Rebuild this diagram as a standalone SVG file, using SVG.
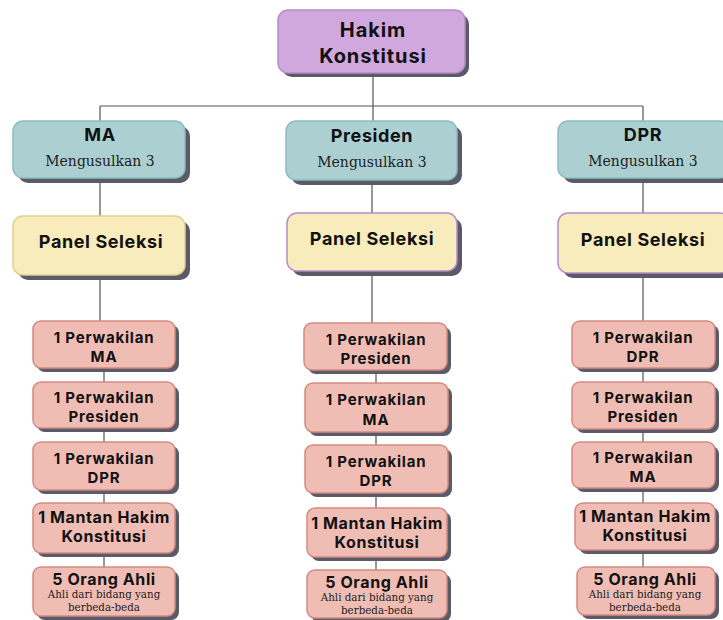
<svg xmlns="http://www.w3.org/2000/svg" width="723" height="620" viewBox="0 0 723 620">
<style>
.sh{fill:#5a5a68}
.top{fill:#d0a8dd;stroke:#b88cc6;stroke-width:1.5}
.teal{fill:#acd0d2;stroke:#8cbcbe;stroke-width:1.5}
.yel{fill:#f8ecbc;stroke:#e0d08e;stroke-width:1.5}
.yelp{fill:#f8ecbc;stroke:#b88cc8;stroke-width:1.5}
.red{fill:#f0bdb4;stroke:#d38a80;stroke-width:1.5}
.b{font-family:Inter,"Liberation Sans",sans-serif;font-weight:700;fill:#111;text-anchor:middle}
.s{font-family:"DejaVu Serif","Liberation Serif",serif;fill:#222;text-anchor:middle}
.t20{font-size:20px;letter-spacing:0.9px}
.t18{font-size:18px;letter-spacing:0.6px}
.t15{font-size:15px;letter-spacing:0.8px}
.t16{font-size:16px;letter-spacing:0.6px}
.sub{font-size:14px}
.small{font-size:10.3px}
.ln{stroke:#555;stroke-width:1.2;fill:none}
</style>
<g id="connectors">
<path class="ln" d="M373 73V106M100 106H643M100 106V121M373 106V121M643 106V121"/>
<path class="ln" d="M100 178V216M100 275V321M104 368V382M104 428V442M104 490V503M104 553V567"/>
<path class="ln" d="M372 180V213M372 271V323M376 370V383M376 432V445M376 493V508M376 557V570"/>
<path class="ln" d="M643 178V213M643 273V321M643 368V382M643 429V442M643 488V503M643 550V567"/>
</g>
<g id="hakim">
<rect class="sh" x="282" y="14" width="187" height="63" rx="10"/>
<rect class="top" x="278" y="10" width="187" height="63" rx="10"/>
<text class="b t20" x="373" y="37">Hakim</text>
<text class="b t20" x="373" y="63">Konstitusi</text>
</g>
<g id="ma">
<rect class="sh" x="18" y="126" width="172" height="57" rx="10"/>
<rect class="teal" x="13" y="121" width="172" height="57" rx="10"/>
<text class="b t18" x="100" y="141">MA</text>
<text class="s sub" x="100" y="166">Mengusulkan 3</text>
</g>
<g id="presiden">
<rect class="sh" x="291" y="126" width="171" height="59" rx="10"/>
<rect class="teal" x="286" y="121" width="171" height="59" rx="10"/>
<text class="b t18" x="372" y="142">Presiden</text>
<text class="s sub" x="372" y="167">Mengusulkan 3</text>
</g>
<g id="dpr">
<rect class="sh" x="563" y="126" width="172" height="57" rx="10"/>
<rect class="teal" x="558" y="121" width="172" height="57" rx="10"/>
<text class="b t18" x="643" y="141">DPR</text>
<text class="s sub" x="643" y="166">Mengusulkan 3</text>
</g>
<g id="panel-ma">
<rect class="sh" x="18" y="221" width="172" height="59" rx="10"/>
<rect class="yel" x="13" y="216" width="172" height="59" rx="10"/>
<text class="b t18" x="101" y="248">Panel Seleksi</text>
</g>
<g id="panel-presiden">
<rect class="sh" x="292" y="218" width="170" height="58" rx="10"/>
<rect class="yelp" x="287" y="213" width="170" height="58" rx="10"/>
<text class="b t18" x="372" y="245">Panel Seleksi</text>
</g>
<g id="panel-dpr">
<rect class="sh" x="563" y="218" width="172" height="60" rx="10"/>
<rect class="yelp" x="558" y="213" width="172" height="60" rx="10"/>
<text class="b t18" x="643" y="246">Panel Seleksi</text>
</g>
<!-- MA column -->
<g id="ma-1">
<rect class="sh" x="37" y="325" width="142" height="47" rx="8"/>
<rect class="red" x="33" y="321" width="142" height="47" rx="8"/>
<text class="b t15" x="104" y="343">1 Perwakilan</text>
<text class="b t15" x="104" y="362">MA</text>
</g>
<g id="ma-2">
<rect class="sh" x="37" y="386" width="142" height="46" rx="8"/>
<rect class="red" x="33" y="382" width="142" height="46" rx="8"/>
<text class="b t15" x="104" y="403">1 Perwakilan</text>
<text class="b t15" x="104" y="422">Presiden</text>
</g>
<g id="ma-3">
<rect class="sh" x="37" y="446" width="142" height="48" rx="8"/>
<rect class="red" x="33" y="442" width="142" height="48" rx="8"/>
<text class="b t15" x="104" y="464">1 Perwakilan</text>
<text class="b t15" x="104" y="483">DPR</text>
</g>
<g id="ma-4">
<rect class="sh" x="37" y="507" width="142" height="50" rx="8"/>
<rect class="red" x="33" y="503" width="142" height="50" rx="8"/>
<text class="b t16" x="104" y="523">1 Mantan Hakim</text>
<text class="b t16" x="104" y="542">Konstitusi</text>
</g>
<g id="ma-5">
<rect class="sh" x="37" y="571" width="142" height="49" rx="8"/>
<rect class="red" x="33" y="567" width="142" height="49" rx="8"/>
<text class="b t16" x="104" y="585">5 Orang Ahli</text>
<text class="s small" x="104" y="598">Ahli dari bidang yang</text>
<text class="s small" x="104" y="611">berbeda-beda</text>
</g>
<!-- Presiden column -->
<g id="pr-1">
<rect class="sh" x="308" y="327" width="143" height="47" rx="8"/>
<rect class="red" x="304" y="323" width="143" height="47" rx="8"/>
<text class="b t15" x="376" y="345">1 Perwakilan</text>
<text class="b t15" x="376" y="364">Presiden</text>
</g>
<g id="pr-2">
<rect class="sh" x="309" y="387" width="143" height="49" rx="8"/>
<rect class="red" x="305" y="383" width="143" height="49" rx="8"/>
<text class="b t15" x="376" y="405">1 Perwakilan</text>
<text class="b t15" x="376" y="425">MA</text>
</g>
<g id="pr-3">
<rect class="sh" x="309" y="449" width="143" height="48" rx="8"/>
<rect class="red" x="305" y="445" width="143" height="48" rx="8"/>
<text class="b t15" x="376" y="467">1 Perwakilan</text>
<text class="b t15" x="376" y="486">DPR</text>
</g>
<g id="pr-4">
<rect class="sh" x="311" y="512" width="140" height="49" rx="8"/>
<rect class="red" x="307" y="508" width="140" height="49" rx="8"/>
<text class="b t16" x="377" y="529">1 Mantan Hakim</text>
<text class="b t16" x="377" y="548">Konstitusi</text>
</g>
<g id="pr-5">
<rect class="sh" x="311" y="574" width="140" height="48" rx="8"/>
<rect class="red" x="307" y="570" width="140" height="48" rx="8"/>
<text class="b t16" x="377" y="588">5 Orang Ahli</text>
<text class="s small" x="377" y="601">Ahli dari bidang yang</text>
<text class="s small" x="377" y="614">berbeda-beda</text>
</g>
<!-- DPR column -->
<g id="dpr-1">
<rect class="sh" x="576" y="325" width="143" height="47" rx="8"/>
<rect class="red" x="572" y="321" width="143" height="47" rx="8"/>
<text class="b t15" x="643" y="343">1 Perwakilan</text>
<text class="b t15" x="643" y="362">DPR</text>
</g>
<g id="dpr-2">
<rect class="sh" x="576" y="386" width="143" height="47" rx="8"/>
<rect class="red" x="572" y="382" width="143" height="47" rx="8"/>
<text class="b t15" x="643" y="403">1 Perwakilan</text>
<text class="b t15" x="643" y="422">Presiden</text>
</g>
<g id="dpr-3">
<rect class="sh" x="576" y="446" width="143" height="46" rx="8"/>
<rect class="red" x="572" y="442" width="143" height="46" rx="8"/>
<text class="b t15" x="643" y="463">1 Perwakilan</text>
<text class="b t15" x="643" y="482">MA</text>
</g>
<g id="dpr-4">
<rect class="sh" x="579" y="507" width="140" height="47" rx="8"/>
<rect class="red" x="575" y="503" width="140" height="47" rx="8"/>
<text class="b t16" x="645" y="522">1 Mantan Hakim</text>
<text class="b t16" x="645" y="541">Konstitusi</text>
</g>
<g id="dpr-5">
<rect class="sh" x="581" y="571" width="138" height="48" rx="8"/>
<rect class="red" x="577" y="567" width="138" height="48" rx="8"/>
<text class="b t16" x="645" y="585">5 Orang Ahli</text>
<text class="s small" x="645" y="598">Ahli dari bidang yang</text>
<text class="s small" x="645" y="611">berbeda-beda</text>
</g>
</svg>
